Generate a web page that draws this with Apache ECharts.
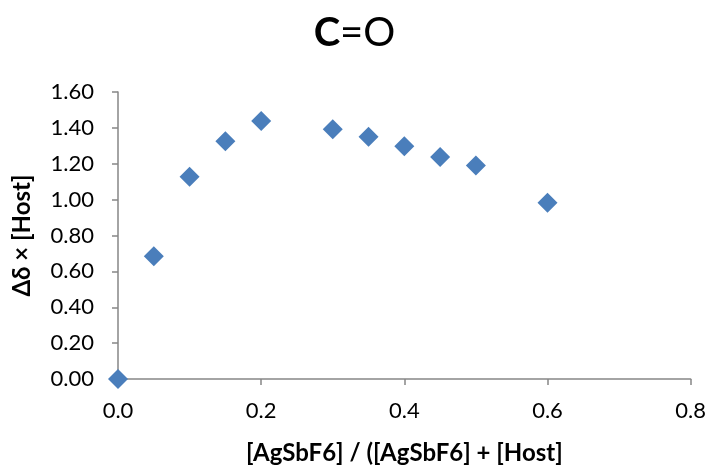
<!DOCTYPE html>
<html><head><meta charset="utf-8">
<script src="https://cdn.jsdelivr.net/npm/echarts@6/dist/echarts.min.js"></script>
<style>html,body{margin:0;padding:0;background:#fff}#c{width:709px;height:470px}</style>
</head><body><div id="c"></div>
<script>
const xValues = [0, 0.05, 0.1, 0.15, 0.2, 0.3, 0.35, 0.4, 0.45, 0.5, 0.6];
const yValues = [0, 0.685, 1.128, 1.326, 1.438, 1.392, 1.350, 1.297, 1.238, 1.190, 0.983];
const xTicks = [0, 0.2, 0.4, 0.6, 0.8];
const yTicks = [0, 0.2, 0.4, 0.6, 0.8, 1.0, 1.2, 1.4, 1.6];

const FONT = 'Lato, "Open Sans", sans-serif';
const chart = echarts.init(document.getElementById('c'));
const axisLine = {lineStyle:{color:'#868686', width:1.5}};
chart.setOption({
  animation:false,
  title:{text:'{b|C}=O', left:'center', top:8,
    textStyle:{rich:{b:{fontWeight:'bold', fontSize:40, color:'#000', fontFamily:FONT}}, fontSize:40, fontWeight:'normal', color:'#000', fontFamily:FONT}},
  grid:{left:118, right:18, top:92, bottom:87},
  xAxis:{type:'value', min:xTicks[0], max:xTicks[xTicks.length-1], interval:0.2,
    splitLine:{show:false}, axisLine:axisLine,
    axisTick:{show:true, length:6, lineStyle:{color:'#868686', width:1.5}},
    axisLabel:{fontSize:22, color:'#000', fontFamily:FONT, margin:21, formatter:v=>v.toFixed(1)},
    name:'[AgSbF6] / ([AgSbF6] + [Host]', nameLocation:'middle', nameGap:62,
    nameTextStyle:{fontSize:24, fontWeight:'bold', color:'#000', fontFamily:FONT}},
  yAxis:{type:'value', min:yTicks[0], max:yTicks[yTicks.length-1], interval:0.2,
    splitLine:{show:false}, axisLine:{show:true, lineStyle:{color:'#868686', width:1.5}},
    axisTick:{show:true, length:6, lineStyle:{color:'#868686', width:1.5}},
    axisLabel:{fontSize:22, color:'#000', fontFamily:FONT, margin:24, formatter:v=>v.toFixed(2)},
    name:'Δδ × [Host]', nameLocation:'middle', nameGap:84,
    nameTextStyle:{fontSize:24, fontWeight:'bold', color:'#000', fontFamily:FONT}},
  series:[{type:'scatter', symbol:'diamond', symbolSize:20,
    itemStyle:{color:'#4A7EBB', opacity:1},
    data:xValues.map((x,i)=>[x, yValues[i]])}]
});
</script></body></html>
